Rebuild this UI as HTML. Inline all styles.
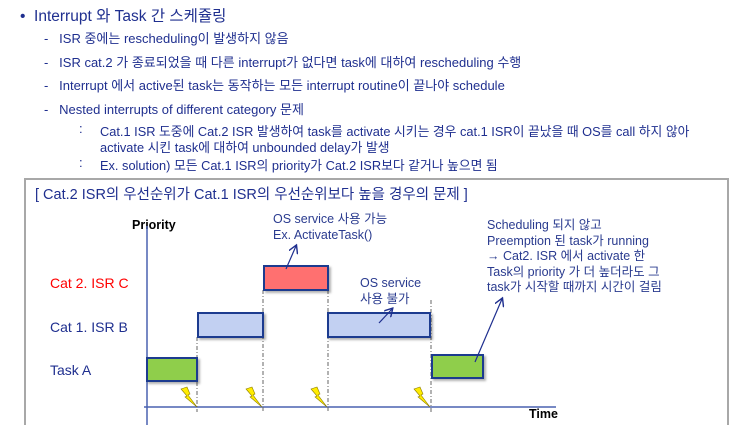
<!DOCTYPE html>
<html style="height:425px;overflow:hidden"><head><meta charset="utf-8"><style>
body{margin:0;width:734px;height:425px;overflow:hidden;background:#fff;font-family:"Liberation Sans","Noto Sans CJK KR",sans-serif;position:relative}
.t{position:absolute;white-space:nowrap;color:#1f2f8f}
.s{font-size:13px}
.an{position:absolute;white-space:nowrap;color:#2a3b8f;font-size:12.5px;line-height:16px}
</style></head><body>
<div class="t" style="left:20px;top:4px;font-size:15.5px">•&nbsp;&nbsp;Interrupt 와 Task 간 스케쥴링</div>
<div class="t s" style="left:44px;top:28px">-&nbsp;&nbsp; ISR 중에는 rescheduling이 발생하지 않음</div>
<div class="t s" style="left:44px;top:52px">-&nbsp;&nbsp; ISR cat.2 가 종료되었을 때 다른 interrupt가 없다면 task에 대하여 rescheduling 수행</div>
<div class="t s" style="left:44px;top:75px">-&nbsp;&nbsp; Interrupt 에서 active된 task는 동작하는 모든 interrupt routine이 끝나야 schedule</div>
<div class="t s" style="left:44px;top:99px">-&nbsp;&nbsp; Nested interrupts of different category 문제</div>
<div class="t s" style="left:79px;top:121px">:</div>
<div class="t s" style="left:100px;top:121px;font-size:12.8px">Cat.1 ISR 도중에 Cat.2 ISR 발생하여 task를 activate 시키는 경우 cat.1 ISR이 끝났을 때 OS를 call 하지 않아</div>
<div class="t s" style="left:100px;top:137px;font-size:12.8px">activate 시킨 task에 대하여 unbounded delay가 발생</div>
<div class="t s" style="left:79px;top:155px">:</div>
<div class="t s" style="left:100px;top:155px;font-size:12.8px">Ex. solution) 모든 Cat.1 ISR의 priority가 Cat.2 ISR보다 같거나 높으면 됨</div>
<div style="position:absolute;left:24px;top:178px;width:701px;height:260px;border:2px solid #a8a8a8"></div>
<div class="t" style="left:35px;top:183px;font-size:14.5px">[ Cat.2 ISR의 우선순위가 Cat.1 ISR의 우선순위보다 높을 경우의 문제 ]</div>
<div class="t" style="left:132px;top:218px;font-size:12.5px;font-weight:bold;color:#000">Priority</div>
<div class="t" style="left:50px;top:275px;font-size:14px;color:#f00">Cat 2. ISR C</div>
<div class="t" style="left:50px;top:319px;font-size:14px">Cat 1. ISR B</div>
<div class="t" style="left:50px;top:362px;font-size:14px">Task A</div>
<div class="t" style="left:529px;top:407px;font-size:12.5px;font-weight:bold;color:#000">Time</div>
<div class="an" style="left:273px;top:211px">OS service 사용 가능<br>Ex. ActivateTask()</div>
<div class="an" style="left:360px;top:275px">OS service<br>사용 불가</div>
<div class="an" style="left:487px;top:218px;line-height:15.5px">Scheduling 되지 않고<br>Preemption 된 task가 running<br>→ Cat2. ISR 에서 activate 한<br>Task의 priority 가 더 높더라도 그<br>task가 시작할 때까지 시간이 걸림</div>
<svg width="734" height="425" style="position:absolute;left:0;top:0">
<defs><marker id="a" markerWidth="8" markerHeight="8" refX="6" refY="4" orient="auto"><path d="M0,0 L7,4 L0,8" fill="none" stroke="#1f2f8f" stroke-width="1.2"/></marker>
<filter id="sh"><feDropShadow dx="2" dy="2" stdDeviation="1" flood-opacity="0.3"/></filter></defs>
<line x1="147" y1="226" x2="147" y2="425" stroke="#4a62b0" stroke-width="1.5"/>
<line x1="144" y1="407" x2="556" y2="407" stroke="#4a62b0" stroke-width="1.5"/>
<g stroke="#666" stroke-dasharray="4,2,1,2" stroke-width="1">
<line x1="197" y1="337" x2="197" y2="412"/><line x1="263" y1="290" x2="263" y2="412"/>
<line x1="328" y1="290" x2="328" y2="412"/><line x1="431" y1="300" x2="431" y2="412"/></g>
<g stroke="#1f3a8f" stroke-width="2" filter="url(#sh)">
<rect x="147" y="358" width="50" height="23" fill="#8fce4c"/>
<rect x="198" y="313" width="65" height="24" fill="#c2d0f2"/>
<rect x="264" y="266" width="64" height="24" fill="#ff6f6f"/>
<rect x="328" y="313" width="102" height="24" fill="#c2d0f2"/>
<rect x="432" y="355" width="51" height="23" fill="#8fce4c"/>
</g>
<g fill="#ffec00" stroke="#8a7a00" stroke-width="0.6">
<path d="M181,389 L187,387 L190,394 L188,395 L197,407 L185,397 L187,396 Z"/>
<path d="M246,389 L252,387 L255,394 L253,395 L262,407 L250,397 L252,396 Z"/>
<path d="M311,389 L317,387 L320,394 L318,395 L327,407 L315,397 L317,396 Z"/>
<path d="M414,389 L420,387 L423,394 L421,395 L430,407 L418,397 L420,396 Z"/>
</g>
<g stroke="#1f2f8f" stroke-width="1.2" marker-end="url(#a)">
<line x1="286" y1="269" x2="296" y2="246"/>
<line x1="379" y1="323" x2="392" y2="309"/>
<line x1="475" y1="362" x2="502" y2="299"/>
</g>
</svg>
</body></html>
